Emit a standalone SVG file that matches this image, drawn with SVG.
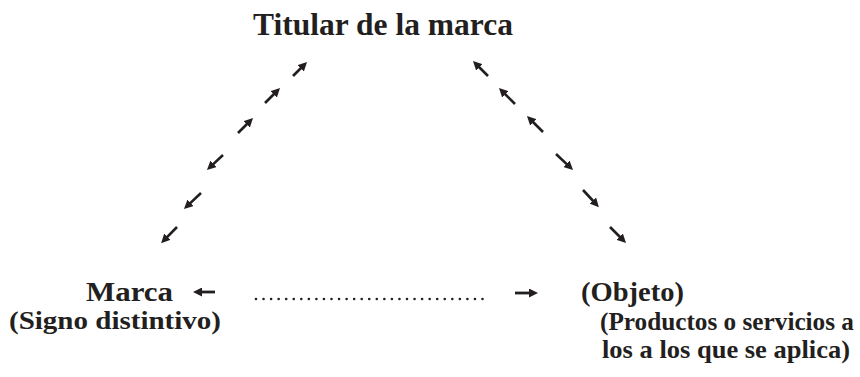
<svg xmlns="http://www.w3.org/2000/svg" width="860" height="377" viewBox="0 0 860 377">
<style>
  text { font-family: "Liberation Serif", "Times New Roman", serif; font-weight: bold; fill: #231f20; }
  .big { font-size: 31px; }
  .mid { font-size: 27px; }
  .small { font-size: 24.5px; }
  .diag { stroke: #231f20; stroke-width: 2.6; fill: none; marker-end: url(#head); }
  .horiz { stroke: #231f20; stroke-width: 2.8; fill: none; marker-end: url(#head); }
  .dots { stroke: #231f20; stroke-width: 2.6; stroke-linecap: round; stroke-dasharray: 0 7.55; fill: none; }
</style>
<defs>
  <marker id="head" viewBox="0 0 9 9" markerWidth="9" markerHeight="9" refX="4" refY="4.5" orient="auto" markerUnits="userSpaceOnUse">
    <path d="M0,0 L9,4.5 L0,9 z" fill="#231f20"/>
  </marker>
</defs>
<rect width="860" height="377" fill="#ffffff"/>
<g id="node-titular">
  <text class="big" x="253" y="35" textLength="260" lengthAdjust="spacingAndGlyphs">Titular de la marca</text>
</g>
<g id="node-marca">
  <text class="mid" x="86" y="301" textLength="87" lengthAdjust="spacingAndGlyphs">Marca</text>
  <text class="small" x="9" y="328.5" textLength="212" lengthAdjust="spacingAndGlyphs">(Signo distintivo)</text>
</g>
<g id="node-objeto">
  <text class="mid" x="581" y="301" textLength="103" lengthAdjust="spacingAndGlyphs">(Objeto)</text>
  <text class="small" x="600" y="330" textLength="254" lengthAdjust="spacingAndGlyphs">(Productos o servicios a</text>
  <text class="small" x="602" y="358" textLength="248" lengthAdjust="spacingAndGlyphs">los a los que se aplica)</text>
</g>
<g id="connectors">
  <line class="diag" x1="293" y1="76" x2="303.5" y2="65.5"/>
  <line class="diag" x1="265" y1="103" x2="276.5" y2="91.5"/>
  <line class="diag" x1="238" y1="133" x2="249.5" y2="121.5"/>
  <line class="diag" x1="223" y1="155" x2="210.6" y2="166.6"/>
  <line class="diag" x1="201" y1="193" x2="187.6" y2="205.6"/>
  <line class="diag" x1="177" y1="227" x2="164.6" y2="239.6"/>
  <line class="diag" x1="488" y1="76" x2="476.5" y2="64.5"/>
  <line class="diag" x1="515" y1="104" x2="502.5" y2="91.5"/>
  <line class="diag" x1="543" y1="132" x2="530.5" y2="119.5"/>
  <line class="diag" x1="556" y1="154" x2="569.4" y2="166.6"/>
  <line class="diag" x1="583" y1="190" x2="595.5" y2="203.5"/>
  <line class="diag" x1="610" y1="227" x2="622.5" y2="239.5"/>
  <line class="horiz" x1="215" y1="292" x2="198" y2="292"/>
  <line class="dots" x1="256" y1="299" x2="490" y2="299"/>
  <line class="horiz" x1="515" y1="293" x2="533" y2="293"/>
</g>
</svg>
